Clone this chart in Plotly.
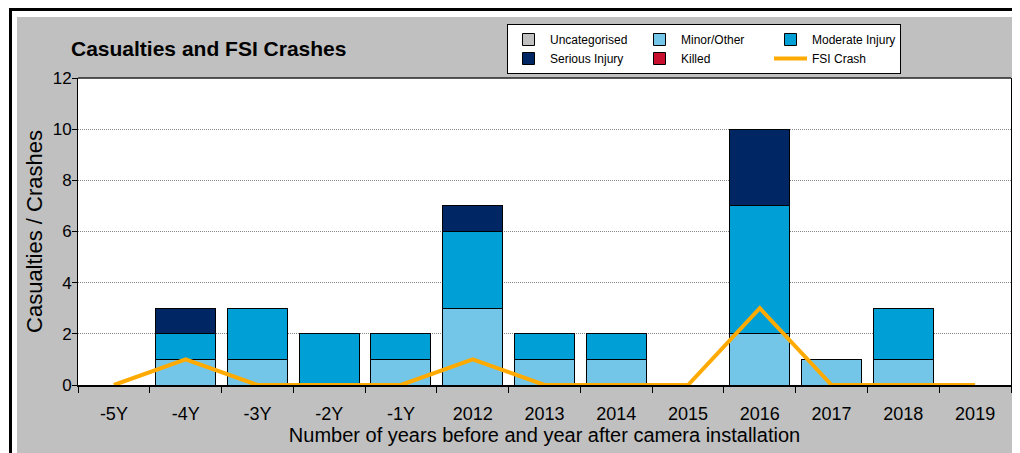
import plotly.graph_objects as go

# ---- data ----
categories = ["-5Y", "-4Y", "-3Y", "-2Y", "-1Y", "2012", "2013", "2014", "2015", "2016", "2017", "2018", "2019"]
uncategorised = [0, 0, 0, 0, 0, 0, 0, 0, 0, 0, 0, 0, 0]
minor_other = [0, 1, 1, 0, 1, 3, 1, 1, 0, 2, 1, 1, 0]
moderate_injury = [0, 1, 2, 2, 1, 3, 1, 1, 0, 5, 0, 2, 0]
serious_injury = [0, 1, 0, 0, 0, 1, 0, 0, 0, 3, 0, 0, 0]
killed = [0, 0, 0, 0, 0, 0, 0, 0, 0, 0, 0, 0, 0]
fsi_crash = [0, 1, 0, 0, 0, 1, 0, 0, 0, 3, 0, 0, 0]
y_ticks = [0, 2, 4, 6, 8, 10, 12]

# ---- layout geometry (screen pixels; page has an 8px body margin) ----
OFF = 8
W, H = 1020, 453
PL, PR, PT, PB = 78, 1011, 78, 385          # plot area on screen
ML, MT = PL - OFF, PT - OFF
MR, MB = W - (PR - OFF), H - (PB - OFF)
PW, PH = PR - PL, PB - PT


def px(x):
    """screen x -> paper x"""
    return (x - PL) / PW


def py(y):
    """screen y -> paper y"""
    return (PB - y) / PH


FONT = "Liberation Sans, Arial, sans-serif"

fig = go.Figure()

bar_series = [
    ("Uncategorised", uncategorised, "#C0C0C0", "A"),
    ("Minor/Other", minor_other, "#73C6E7", "B"),
    ("Moderate Injury", moderate_injury, "#00A0D6", "C"),
    ("Serious Injury", serious_injury, "#002663", "A"),
    ("Killed", killed, "#C8102E", "B"),
]
for name, vals, color, grp in bar_series:
    fig.add_trace(go.Bar(
        x=categories, y=vals, name=name, legendgroup=grp,
        marker=dict(color=color, line=dict(color="#000000", width=1)),
    ))

fig.add_trace(go.Scatter(
    x=categories, y=fsi_crash, name="FSI Crash", legendgroup="C",
    mode="lines", line=dict(color="#FFAA00", width=4),
))

shapes = [
    # white strips outside the grey frame
    dict(type="rect", xref="paper", yref="paper", x0=px(0), x1=px(W + 20), y0=py(17), y1=py(0),
         fillcolor="white", line=dict(width=0), layer="below"),
    dict(type="rect", xref="paper", yref="paper", x0=px(0), x1=px(17), y0=py(H + 20), y1=py(0),
         fillcolor="white", line=dict(width=0), layer="below"),
    # black frame lines
    dict(type="line", xref="paper", yref="paper", x0=px(9), x1=px(W + 20), y0=py(9.5), y1=py(9.5),
         line=dict(color="black", width=3), layer="below"),
    dict(type="line", xref="paper", yref="paper", x0=px(10.5), x1=px(10.5), y0=py(8), y1=py(H + 20),
         line=dict(color="black", width=3), layer="below"),
    # plot area top border
    dict(type="line", xref="paper", yref="paper", x0=0, x1=1, y0=1, y1=1,
         line=dict(color="#222222", width=1.5), layer="above"),
]

fig.update_layout(
    width=W, height=H,
    margin=dict(l=ML, r=MR, t=MT, b=MB, autoexpand=False),
    paper_bgcolor="#C0C0C0",
    plot_bgcolor="white",
    barmode="stack",
    bargap=0.164,
    shapes=shapes,
    font=dict(family=FONT, color="black"),
    title=dict(
        text="Casualties and FSI Crashes",
        font=dict(family=FONT, size=21, color="black", weight="bold"),
        xref="container", yref="container",
        x=(71 - OFF) / W, xanchor="left",
        y=1 - (49 - OFF) / H, yanchor="middle",
    ),
    legend=dict(
        orientation="h",
        traceorder="grouped",
        x=px(507), y=py(24), xanchor="left", yanchor="top",
        bgcolor="white", bordercolor="black", borderwidth=1,
        font=dict(family=FONT, size=12, color="black"),
        itemwidth=33,
        entrywidth=83,
        tracegroupgap=0,
    ),
    xaxis=dict(
        type="category",
        categoryorder="array", categoryarray=categories,
        showline=True, linecolor="black", linewidth=2,
        ticks="outside", ticklen=6, tickcolor="black", tickwidth=1,
        tickson="boundaries",
        showgrid=False,
        tickfont=dict(family=FONT, size=18, color="black"),
        ticklabelstandoff=11,
        title=dict(text="Number of years before and year after camera installation",
                   font=dict(family=FONT, size=20, color="black"), standoff=0),
        automargin=False,
    ),
    yaxis=dict(
        range=[0, 12], tickvals=y_ticks,
        showline=True, linecolor="black", linewidth=1, mirror=True,
        ticks="outside", ticklen=5, tickcolor="black",
        showgrid=True, gridcolor="#888888", griddash="1px,1px", gridwidth=1,
        zeroline=False,
        tickfont=dict(family=FONT, size=17, color="black"),
        ticklabelstandoff=-3,
        title=dict(text="Casualties / Crashes",
                   font=dict(family=FONT, size=22, color="black"), standoff=3),
        automargin=False,
    ),
    showlegend=True,
)

fig.write_html("out.html")
